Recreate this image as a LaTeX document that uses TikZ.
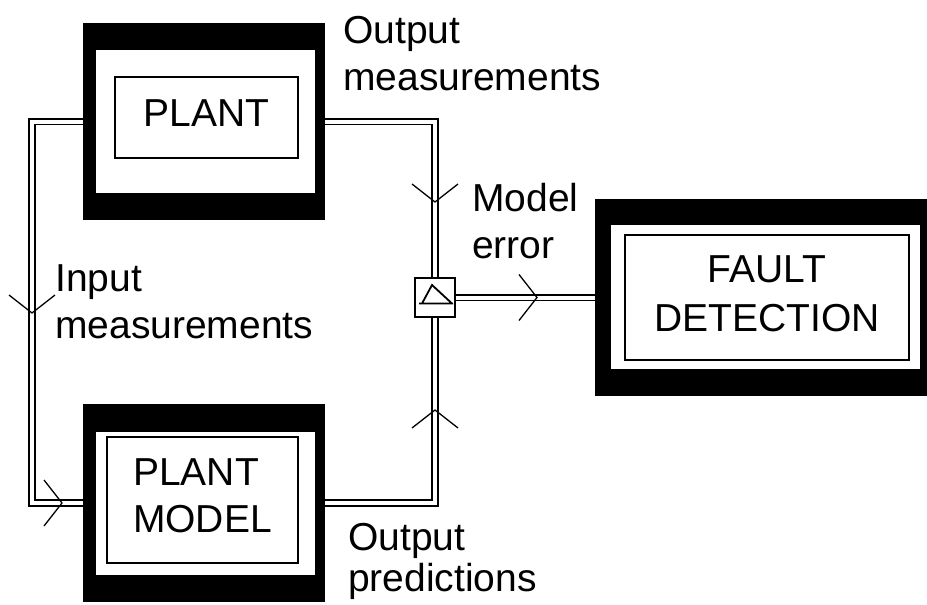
\documentclass[tikz,border=0pt]{standalone}
\usepackage{fontspec}
\setmainfont{Liberation Sans}
\usepackage{tikz}
\usetikzlibrary{positioning}
\newcommand\boxfont{\fontsize{39}{47}\selectfont}

\begin{document}
\begin{tikzpicture}[x=1pt, y=-1pt, inner sep=0pt,
        blk/.style={shape=rectangle, fill=black},
        wht/.style={shape=rectangle, fill=white},
        inbox/.style={shape=rectangle, draw, line width=1.8pt, fill=white, text depth=8pt, font=\boxfont},
        dbl/.style={draw, line width=1.8pt, double=white, double distance=4pt, line join=miter},
        lbl/.style={anchor=base west, align=left, font=\boxfont}]
            \useasboundingbox (0,0) rectangle (927,605);
            %Boxes
            \node (plant) at (204,121.5) [blk, minimum width=242pt, minimum height=197pt] {};
            \node (plantw) at (205.5,121.5) [wht, minimum width=219pt, minimum height=143pt] {};
            \node (plantin) at (206.5,117.5) [inbox, minimum width=183pt, minimum height=81pt] {PLANT};
            \node (model) at (204,503) [blk, minimum width=242pt, minimum height=198pt] {};
            \node (modelw) at (205.5,503.5) [wht, minimum width=219pt, minimum height=143pt] {};
            \node (modelin) at (202.5,500) [inbox, align=left, minimum width=191pt, minimum height=126pt] {PLANT\\MODEL};
            \node (fault) at (761,297.5) [blk, minimum width=332pt, minimum height=197pt] {};
            \node (faultw) at (765.5,297) [wht, minimum width=309pt, minimum height=144pt] {};
            \node (faultin) at (767,297.5) [inbox, align=center, minimum width=284pt, minimum height=125pt] {FAULT\\[2pt]DETECTION};
            \node (sum) at (435,297.5) [draw, line width=1.8pt, fill=white, minimum width=40pt, minimum height=39pt] {};
            \draw[line width=1.8pt, shift={(sum.center)}] (-13,6) -- (-3,-12.5) -- (17,6) (-16,6) -- (18,6);
            %Connectors
            \coordinate (lbot) at (32,503);
            \draw[dbl] (plant.west) -| (lbot) -- (model.west);
            \draw[dbl] (plant.east) -| (sum.north);
            \draw[dbl] (model.east) -| (sum.south);
            \draw[dbl] (sum.east) -- (fault.west);
            \foreach \x/\y/\a in {32/313/-90, 435/202/-90, 62/503/0, 537/297.5/0, 435/410/90}
                \draw[line width=1.3pt, shift={(\x,\y)}, rotate=\a] (-18,23) -- (0,0) -- (-18,-23);
            %Labels (anchored at the last line)
            \node (outmeas) at (343,90) [lbl] {Output\\measurements};
            \node (modelerr) at (472,258) [lbl] {Model\\error};
            \node (inmeas) at (55,338) [lbl] {Input\\measurements};
            \node (outpred) at (348,591) [lbl] {Output\\[-6pt]predictions};
        \end{tikzpicture}
\end{document}
